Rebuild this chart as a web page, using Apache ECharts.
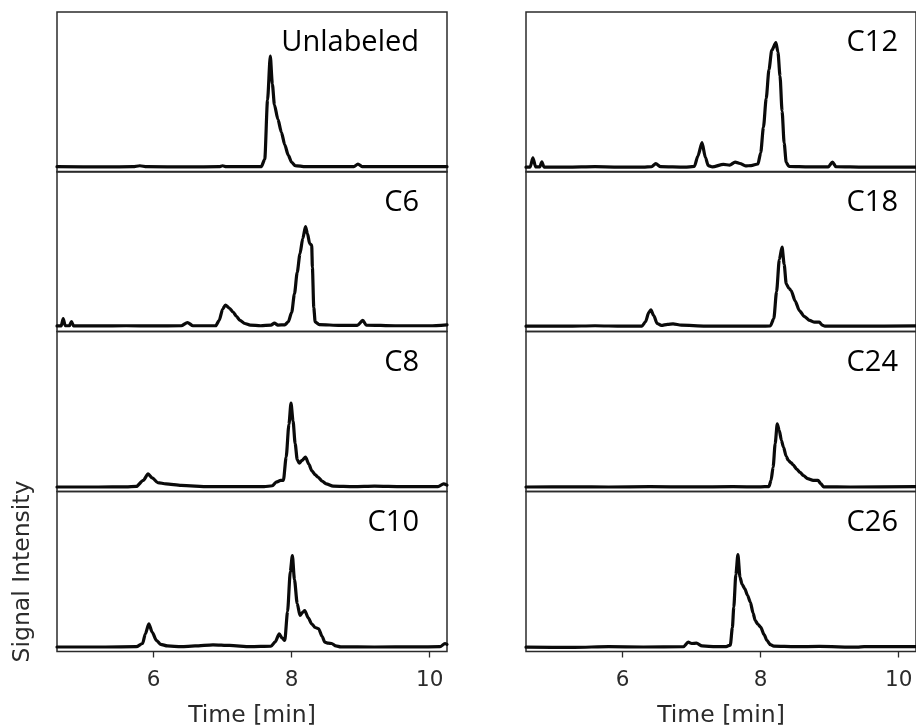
<!DOCTYPE html>
<html>
<head>
<meta charset="utf-8">
<script src="https://cdn.jsdelivr.net/npm/echarts@6/dist/echarts.min.js"></script>
<style>
  html, body { margin: 0; padding: 0; background: #fff; }
  #chart { width: 916px; height: 725px; }
</style>
</head>
<body>
<div id="chart"></div>
<script>
// Retention-time axis
const timeMin = 4.6;
const timeMax = 10.25;
const timeTicks = [6, 8, 10];

// Panel titles, left column top to bottom, then right column
const panelNames = ['Unlabeled', 'C6', 'C8', 'C10', 'C12', 'C18', 'C24', 'C26'];

// Chromatograms: [time (min), relative signal (% of panel height)]
const unlabeled = [[4.6,3.3],[5.3,3.2],[5.7,3.3],[5.8,3.9],[5.9,3.3],[6.5,3.2],[6.95,3.3],[7.0,3.9],[7.05,3.3],[7.4,3.3],[7.56,3.4],[7.61,8],[7.65,45],[7.69,72.5],[7.72,55],[7.75,42],[7.8,33],[7.85,25],[7.9,17],[7.95,10.5],[8.0,6],[8.05,4],[8.2,3.3],[8.6,3.4],[8.9,3.3],[8.96,5],[9.02,3.4],[9.5,3.3],[10.25,3.3]];

const c6 = [[4.6,3.5],[4.66,3.5],[4.69,8],[4.72,3.6],[4.78,3.6],[4.81,6.2],[4.84,3.5],[5.2,3.5],[5.6,3.6],[6.0,3.5],[6.4,3.6],[6.49,5.6],[6.57,3.6],[6.9,3.6],[6.95,7],[7.0,14],[7.04,16.5],[7.1,14.5],[7.15,12.2],[7.2,9.5],[7.25,7],[7.32,5],[7.4,4],[7.55,3.6],[7.7,4],[7.75,5.2],[7.8,4],[7.9,4.2],[7.95,6],[8.0,12],[8.04,23.5],[8.08,37],[8.12,48.5],[8.16,58],[8.2,65.5],[8.23,61],[8.26,55],[8.29,54],[8.3,40],[8.32,15],[8.34,6],[8.4,4.3],[8.7,3.8],[8.95,3.8],[9.03,6.9],[9.08,4],[9.5,3.6],[10.0,3.6],[10.25,4.2]];

const c8 = [[4.6,2.8],[5.2,2.8],[5.6,2.9],[5.75,3.2],[5.85,7],[5.92,11],[5.98,8.5],[6.06,5.5],[6.18,4.8],[6.4,3.8],[6.8,3],[7.2,3],[7.6,3],[7.72,3.6],[7.78,6],[7.84,6.9],[7.88,7],[7.92,21.5],[7.96,42],[7.99,55.2],[8.02,44],[8.05,30],[8.08,20],[8.11,17.7],[8.15,19.5],[8.2,21.5],[8.25,17],[8.29,13.1],[8.34,10.5],[8.38,9],[8.44,6.5],[8.5,4.8],[8.6,3.3],[8.9,3],[9.2,3.3],[9.6,3],[10.12,3],[10.2,4.8],[10.25,4]];

const c10 = [[4.6,2.8],[5.3,2.8],[5.75,3],[5.84,5],[5.88,11],[5.93,17.3],[5.98,12],[6.04,7],[6.1,4.5],[6.2,3.5],[6.4,3],[6.6,3.5],[6.86,4.2],[7.1,3.8],[7.4,3],[7.7,3.3],[7.76,6],[7.82,11],[7.86,8.5],[7.9,6.9],[7.94,25],[7.98,50],[8.01,60],[8.04,45],[8.08,30],[8.12,22.5],[8.16,24.5],[8.19,25.6],[8.24,21],[8.29,17.3],[8.34,15],[8.39,14.2],[8.44,9.5],[8.48,5.8],[8.53,5.2],[8.58,5],[8.64,3.5],[8.71,2.9],[9.2,2.8],[9.8,2.9],[10.15,3],[10.22,5],[10.25,4.5]];

const c12 = [[4.6,3],[4.66,3],[4.7,8.9],[4.74,3.2],[4.8,3.2],[4.83,6.4],[4.86,3.1],[5.2,3],[5.6,3.3],[5.9,3.1],[6.3,3],[6.42,3.3],[6.48,5.2],[6.55,3.3],[6.9,3],[7.04,3.5],[7.09,10],[7.15,18.3],[7.2,9],[7.24,4],[7.3,3.2],[7.46,4.8],[7.55,4.3],[7.63,6.2],[7.7,5.3],[7.78,3.8],[7.86,4],[7.96,5],[8.0,12],[8.04,28],[8.08,46],[8.12,64],[8.16,76],[8.22,80.8],[8.25,75],[8.28,60],[8.31,38],[8.34,18],[8.37,6],[8.41,3.5],[8.7,3.2],[8.98,3.2],[9.04,6.2],[9.09,3.3],[9.5,3],[10.25,3]];

const c18 = [[4.6,3.3],[5.2,3.3],[5.6,3.6],[6.0,3.3],[6.28,3.4],[6.33,6],[6.38,12],[6.41,13.5],[6.45,10],[6.5,5],[6.56,3.8],[6.65,4.5],[6.73,4.8],[6.85,4],[7.2,3.4],[7.6,3.3],[8.0,3.3],[8.14,3.5],[8.19,8],[8.23,25],[8.27,45],[8.31,52.7],[8.34,42],[8.37,29.8],[8.41,27],[8.44,25.6],[8.5,19],[8.56,13.1],[8.63,9.5],[8.71,6.9],[8.78,5.8],[8.85,5.8],[8.89,4],[8.93,3.4],[9.4,3.3],[10.25,3.5]];

const c24 = [[4.6,2.8],[5.3,2.9],[5.8,2.8],[6.4,3],[7.0,2.9],[7.6,3],[8.0,2.9],[8.12,3.1],[8.15,7],[8.18,15.2],[8.21,30],[8.24,42.3],[8.27,38],[8.3,32],[8.33,27.7],[8.37,22],[8.4,19.4],[8.44,18],[8.47,16.7],[8.52,14],[8.57,12],[8.62,10],[8.68,8],[8.76,6.9],[8.83,6.9],[8.87,5],[8.91,2.9],[9.3,2.8],[10.25,3]];

const c26 = [[4.6,2.7],[5.3,2.6],[5.8,3],[6.3,2.8],[6.88,3],[6.95,5.8],[7.0,5],[7.07,5.2],[7.15,3.5],[7.35,3],[7.5,3.1],[7.56,4],[7.59,15],[7.61,27.7],[7.64,48],[7.67,60.6],[7.7,46.5],[7.73,42],[7.77,39.2],[7.81,35],[7.85,30.8],[7.89,24],[7.92,19.4],[7.96,17],[8.0,15.2],[8.05,10.5],[8.09,6.9],[8.14,4.3],[8.19,3.3],[8.5,3],[8.85,3.2],[9.4,2.7],[9.5,3.1],[10.25,3]];

const traces = [unlabeled, c6, c8, c10, c12, c18, c24, c26];

// Panel geometry (px)
const colLeft = [57, 526];
const rowTop = [12, 171.5, 331.5, 491.5];
const panelW = 390;
const panelH = 160;
const labelRight = [419, 898];

const textColor = '#2b2b2b';
const frameColor = '#2b2b2b';

const grids = [], xAxes = [], yAxes = [], series = [], labels = [];

traces.forEach((data, i) => {
  const col = Math.floor(i / 4);
  const row = i % 4;
  const isBottom = row === 3;

  grids.push({
    left: colLeft[col], top: rowTop[row], width: panelW, height: panelH,
    show: true, borderColor: frameColor, borderWidth: 1.5,
    backgroundColor: 'transparent', containLabel: false, outerBoundsMode: 'none'
  });

  xAxes.push({
    type: 'value', gridIndex: i, min: timeMin, max: timeMax,
    name: isBottom ? 'Time [min]' : '',
    nameLocation: 'middle', nameGap: 52,
    nameTextStyle: { fontFamily: 'DejaVu Sans', fontSize: 23.5, color: textColor },
    axisLine: { show: false },
    axisTick: {
      show: isBottom, customValues: timeTicks, inside: false, length: 6,
      lineStyle: { color: frameColor, width: 1.3 }
    },
    axisLabel: {
      show: isBottom, customValues: timeTicks, margin: 18,
      fontFamily: 'DejaVu Sans', fontSize: 21.5, color: textColor
    },
    splitLine: { show: false }
  });

  yAxes.push({
    type: 'value', gridIndex: i, min: 0, max: 100,
    name: (i === 3) ? 'Signal Intensity' : '',
    nameLocation: 'middle', nameRotate: 90, nameGap: 22,
    nameTextStyle: { fontFamily: 'DejaVu Sans', fontSize: 23.5, color: textColor },
    axisLine: { show: false }, axisTick: { show: false },
    axisLabel: { show: false }, splitLine: { show: false }
  });

  series.push({
    type: 'line', xAxisIndex: i, yAxisIndex: i, data: data,
    showSymbol: false, symbol: 'none', smooth: 0.25, smoothMonotone: 'x',
    lineStyle: { color: '#0a0a0a', width: 3.2, join: 'round', cap: 'round' },
    silent: true, animation: false
  });

  labels.push({
    type: 'text',
    style: {
      text: panelNames[i], x: labelRight[col], y: rowTop[row] + 31,
      align: 'right', verticalAlign: 'middle',
      font: '29px "Open Sans"', fill: '#000'
    }
  });
});

const chart = echarts.init(document.getElementById('chart'), null, { renderer: 'canvas' });
chart.setOption({
  backgroundColor: '#fff',
  animation: false,
  grid: grids,
  xAxis: xAxes,
  yAxis: yAxes,
  series: series,
  graphic: labels
});
</script>
</body>
</html>
